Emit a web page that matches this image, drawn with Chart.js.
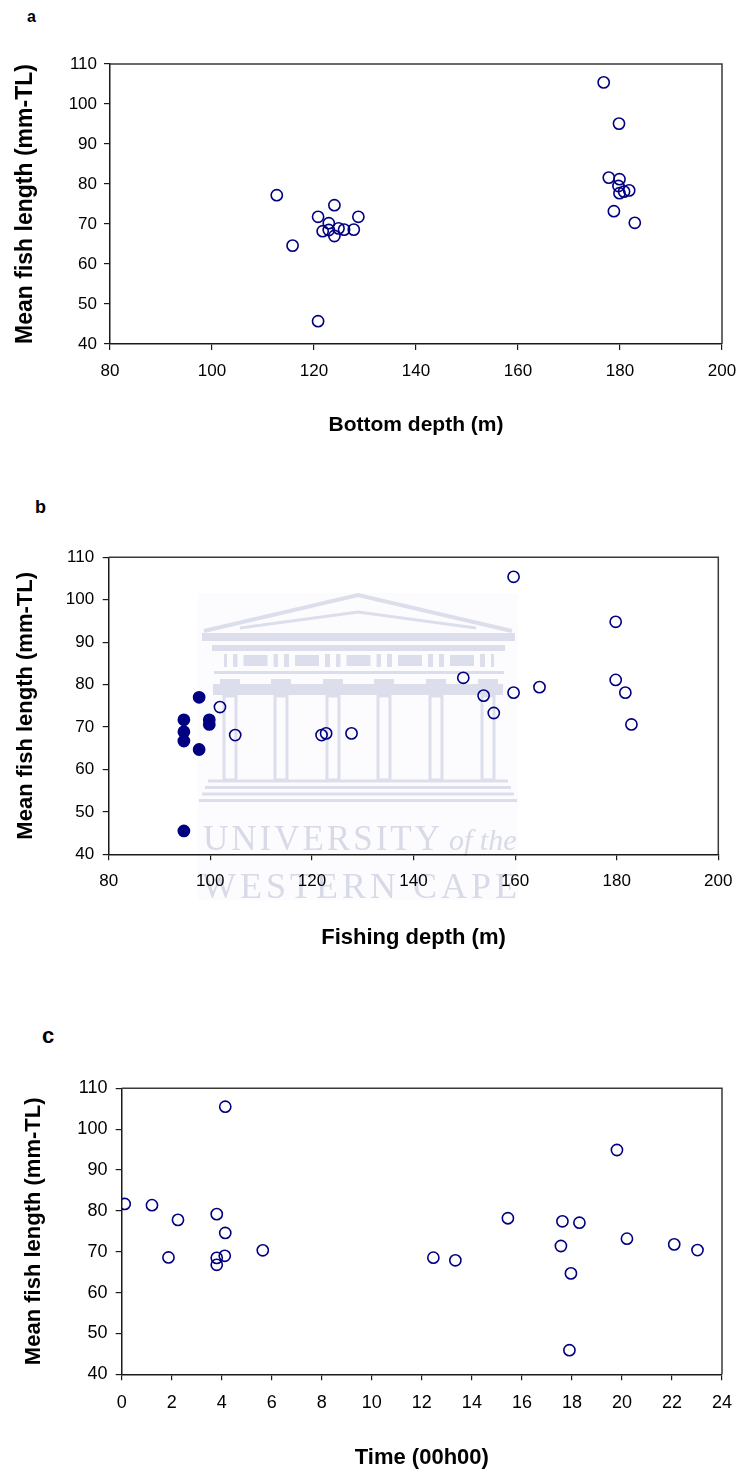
<!DOCTYPE html>
<html>
<head>
<meta charset="utf-8">
<title>Mean fish length versus depth and time</title>
<script src="https://cdn.jsdelivr.net/npm/chart.js@4.4.1/dist/chart.umd.min.js"></script>
<style>
  html, body { margin: 0; padding: 0; background: #fff; width: 741px; height: 1472px; overflow: hidden; }
  .panel { position: absolute; left: 0; width: 741px; }
  canvas { display: block; }
  .tag { position: absolute; font-family: 'Liberation Sans', Arial, sans-serif; font-weight: bold; color: #000; line-height: 1; }
</style>
</head>
<body>
<div class="tag" style="left:27px; top:9px; font-size:16px;">a</div>
<div class="tag" style="left:35px; top:498px; font-size:18px;">b</div>
<div class="tag" style="left:42px; top:1025px; font-size:22px;">c</div>

<div class="panel" style="top:0px; height:460px;"><canvas id="panelA" width="741" height="460"></canvas></div>
<div class="panel" style="top:470px; height:490px;"><canvas id="panelB" width="741" height="490"></canvas></div>
<div class="panel" style="top:960px; height:512px;"><canvas id="panelC" width="741" height="512"></canvas></div>

<script>
// ---- tick labels ----
const lengthTicks = [40, 50, 60, 70, 80, 90, 100, 110];
const depthTicks  = [80, 100, 120, 140, 160, 180, 200];
const hourTicks   = [0, 2, 4, 6, 8, 10, 12, 14, 16, 18, 20, 22, 24];

// ---- a: bottom depth (m) vs mean fish length (mm-TL) ----
const bottomDepth = [112.7, 115.8, 120.8, 120.8, 124.0, 128.7, 121.7, 122.9, 122.9, 124.0, 124.8, 125.9, 127.8,
                     176.8, 179.8, 177.8, 179.9, 179.7, 181.8, 180.8, 179.9, 178.8, 182.9];
const lengthByBottom = [77.2, 64.6, 45.7, 71.8, 74.7, 71.8, 68.2, 70.2, 68.5, 67.0, 68.9, 68.6, 68.6,
                        105.4, 95.1, 81.6, 81.2, 79.5, 78.4, 78.1, 77.7, 73.2, 70.3];

// ---- b: fishing depth (m); filled = shallow tows, open = the rest ----
const fishingDepthFilled = [97.8, 94.8, 94.8, 94.8, 99.8, 99.8, 97.8, 94.8];
const lengthFilled       = [77.0, 71.7, 68.9, 66.7, 71.7, 70.6, 64.7, 45.5];
const fishingDepthOpen = [101.9, 104.9, 121.9, 122.8, 127.8, 149.8, 153.8, 155.8, 159.7, 159.7, 164.8, 179.8, 179.8, 181.7, 182.9];
const lengthOpen       = [74.7, 68.1, 68.1, 68.5, 68.5, 81.6, 77.4, 73.3, 105.4, 78.1, 79.4, 94.8, 81.1, 78.1, 70.6];

// ---- c: time of day (hours) ----
const hourOfDay = [0.12, 1.21, 2.25, 1.87, 3.8, 4.14, 4.14, 3.8, 3.8, 4.12, 5.64,
                   12.46, 13.34, 15.44, 17.62, 18.3, 17.56, 17.96, 17.9, 19.8, 20.2, 22.09, 23.02];
const lengthByHour = [81.7, 81.4, 77.8, 68.6, 79.2, 105.5, 74.6, 68.5, 66.8, 69.0, 70.35,
                      68.55, 67.9, 78.2, 77.45, 77.1, 71.4, 64.7, 45.9, 94.9, 73.2, 71.8, 70.4];

const NAVY = '#000080';
const FONT = "'Liberation Sans', Arial, Helvetica, sans-serif";
const AXIS = '#1a1a1a';

function pairs(xs, ys) { return xs.map((x, i) => ({ x: x, y: ys[i] })); }

function openSeries(xs, ys) {
  return { data: pairs(xs, ys), pointRadius: 5.6, pointHoverRadius: 5.6, pointBorderWidth: 1.6,
           pointBorderColor: NAVY, pointBackgroundColor: 'rgba(0,0,0,0)', showLine: false };
}
function filledSeries(xs, ys) {
  return { data: pairs(xs, ys), pointRadius: 5.6, pointHoverRadius: 5.6, pointBorderWidth: 1.6,
           pointBorderColor: NAVY, pointBackgroundColor: NAVY, showLine: false };
}

// top and right edges of the plot box
const plotFrame = {
  id: 'plotFrame',
  beforeDatasetsDraw(chart) {
    const { ctx, chartArea: a } = chart;
    ctx.save();
    ctx.strokeStyle = '#3a3a3a';
    ctx.lineWidth = 1.5;
    ctx.beginPath();
    ctx.moveTo(a.left, a.top);
    ctx.lineTo(a.right, a.top);
    ctx.lineTo(a.right, a.bottom);
    ctx.stroke();
    ctx.restore();
  }
};

// faint university crest printed behind panel b
const crestWatermark = {
  id: 'crestWatermark',
  beforeDraw(chart) {
    const ctx = chart.ctx;
    const oy = -470; // page offset of this canvas
    const col = '#dcdeeb';
    ctx.save();
    ctx.translate(0, oy);
    ctx.fillStyle = '#fcfcfe';
    ctx.fillRect(198, 593, 320, 307);
    ctx.strokeStyle = col;
    ctx.fillStyle = col;
    ctx.lineJoin = 'miter';
    // pediment
    ctx.lineWidth = 4;
    ctx.beginPath();
    ctx.moveTo(204, 631); ctx.lineTo(358, 595); ctx.lineTo(512, 631);
    ctx.stroke();
    ctx.lineWidth = 3;
    ctx.beginPath();
    ctx.moveTo(240, 628); ctx.lineTo(358, 612); ctx.lineTo(476, 628);
    ctx.stroke();
    // cornice bands
    ctx.fillRect(202, 633, 313, 8);
    ctx.fillRect(212, 645, 293, 6);
    // frieze: paired triglyph bars and metope blocks
    const cols = [230, 281, 333, 384, 436, 488];
    cols.forEach(cx => {
      ctx.fillRect(cx - 6, 654, 3, 13);
      ctx.fillRect(cx + 3, 654, 3, 13);
    });
    for (let i = 0; i < cols.length - 1; i++) {
      const mid = (cols[i] + cols[i + 1]) / 2;
      ctx.fillRect(mid - 12, 655, 24, 11);
      ctx.fillRect(mid - 21, 654, 3, 13);
      ctx.fillRect(mid + 18, 654, 3, 13);
    }
    ctx.fillRect(214, 671, 290, 3);
    // architrave
    ctx.fillRect(213, 684, 290, 11);
    // columns
    ctx.lineWidth = 3;
    cols.forEach(cx => {
      ctx.fillRect(cx - 10, 679, 20, 5);
      ctx.strokeRect(cx - 6, 696, 12, 84);
    });
    // steps
    ctx.lineWidth = 3;
    [781, 787.5, 794, 800.5].forEach((y, k) => {
      ctx.beginPath();
      ctx.moveTo(208 - k * 3, y); ctx.lineTo(508 + k * 3, y);
      ctx.stroke();
    });
    // lettering
    ctx.fillStyle = '#d8dae8';
    ctx.textBaseline = 'alphabetic';
    ctx.textAlign = 'left';
    ctx.font = "35px 'Liberation Serif', 'Times New Roman', serif";
    if ('letterSpacing' in ctx) ctx.letterSpacing = '3px';
    ctx.fillText('UNIVERSITY', 203, 850);
    if ('letterSpacing' in ctx) ctx.letterSpacing = '0px';
    ctx.font = "italic 30px 'Liberation Serif', 'Times New Roman', serif";
    ctx.fillText('of the', 449, 850);
    ctx.font = "36px 'Liberation Serif', 'Times New Roman', serif";
    if ('letterSpacing' in ctx) ctx.letterSpacing = '4px';
    ctx.fillText('WESTERN CAPE', 202, 898);
    if ('letterSpacing' in ctx) ctx.letterSpacing = '0px';
    ctx.restore();
  }
};

function fixedTicks(values) {
  return function (scale) { scale.ticks = values.map(v => ({ value: v })); };
}

function makePanel(id, g) {
  const canvas = document.getElementById(id);
  return new Chart(canvas, {
    type: 'scatter',
    data: { datasets: g.datasets },
    options: {
      responsive: false,
      animation: false,
      events: [],
      layout: { padding: { top: g.top, right: g.right, bottom: g.bottom, left: 0 } },
      plugins: { legend: { display: false }, tooltip: { enabled: false }, title: { display: false } },
      scales: {
        x: {
          type: 'linear', position: 'bottom',
          min: g.xTicks[0], max: g.xTicks[g.xTicks.length - 1],
          afterBuildTicks: fixedTicks(g.xTicks),
          afterFit(s) { s.height = g.xHeight; s.paddingLeft = 0; s.paddingRight = 0; },
          ticks: { color: '#000', font: { family: FONT, size: g.xTickSize }, padding: g.xTickPad, maxRotation: 0, autoSkip: false },
          grid: { drawOnChartArea: false, drawTicks: true, tickLength: 6, color: AXIS, lineWidth: 1.2 },
          border: { display: true, color: AXIS, width: 1.5 },
          title: { display: true, text: g.xTitle, color: '#000',
                   font: { family: FONT, size: g.xTitleSize, weight: 'bold' },
                   padding: { top: 0, bottom: g.xTitlePad } }
        },
        y: {
          type: 'linear', position: 'left',
          min: 40, max: 110,
          afterBuildTicks: fixedTicks(lengthTicks),
          afterFit(s) { s.width = g.left; s.paddingTop = 0; s.paddingBottom = 0; },
          ticks: { color: '#000', font: { family: FONT, size: g.yTickSize }, padding: g.yTickPad },
          grid: { drawOnChartArea: false, drawTicks: true, tickLength: 6, color: AXIS, lineWidth: 1.2 },
          border: { display: true, color: AXIS, width: 1.5 },
          title: { display: true, text: 'Mean fish length (mm-TL)', color: '#000',
                   font: { family: FONT, size: g.yTitleSize, weight: 'bold' },
                   padding: { top: g.yTitlePad, bottom: 0 } }
        }
      }
    },
    plugins: g.plugins
  });
}

// panel a
makePanel('panelA', {
  datasets: [openSeries(bottomDepth, lengthByBottom)],
  xTicks: depthTicks, xTitle: 'Bottom depth (m)',
  top: 64, right: 19, bottom: 16, left: 110, xHeight: 100,
  xTickSize: 17, xTickPad: 11, xTitleSize: 21, xTitlePad: 6,
  yTickSize: 17, yTickPad: 7, yTitleSize: 23, yTitlePad: 12,
  plugins: [plotFrame]
});

// panel b
makePanel('panelB', {
  datasets: [filledSeries(fishingDepthFilled, lengthFilled), openSeries(fishingDepthOpen, lengthOpen)],
  xTicks: depthTicks, xTitle: 'Fishing depth (m)',
  top: 87.3, right: 22.7, bottom: 5.7, left: 108.7, xHeight: 100,
  xTickSize: 17, xTickPad: 11, xTitleSize: 22, xTitlePad: 3,
  yTickSize: 17, yTickPad: 8.5, yTitleSize: 22, yTitlePad: 12.8,
  plugins: [crestWatermark, plotFrame]
});

// panel c
makePanel('panelC', {
  datasets: [openSeries(hourOfDay, lengthByHour)],
  xTicks: hourTicks, xTitle: 'Time (00h00)',
  top: 128.3, right: 19, bottom: 0, left: 121.7, xHeight: 97.7,
  xTickSize: 18, xTickPad: 12, xTitleSize: 22, xTitlePad: 1,
  yTickSize: 18, yTickPad: 8.3, yTitleSize: 22, yTitlePad: 20.8,
  plugins: [plotFrame]
});
</script>
</body>
</html>
